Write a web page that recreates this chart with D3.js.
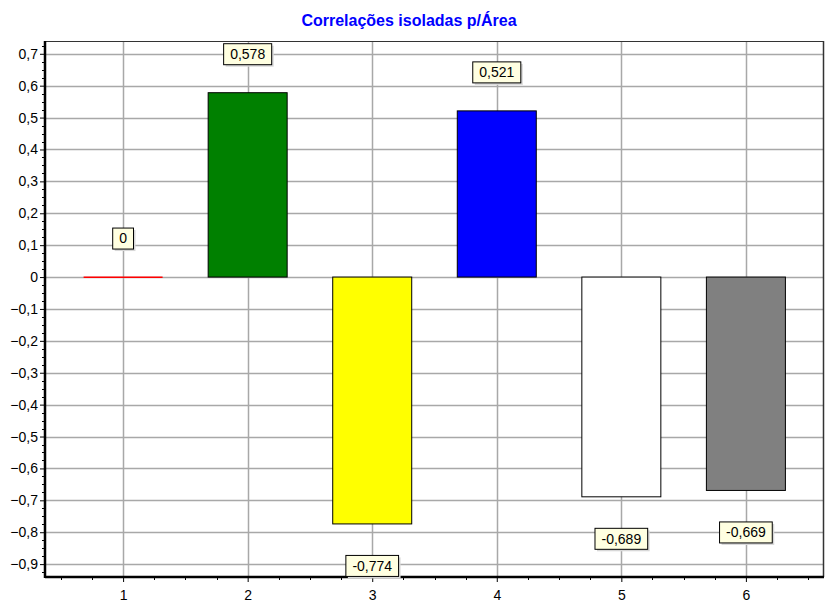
<!DOCTYPE html>
<html>
<head>
<meta charset="utf-8">
<script src="https://cdn.jsdelivr.net/npm/d3@7"></script>
<style>
  body { margin: 0; background: #fff; }
  text { font-family: "Liberation Sans", Arial, sans-serif; }
</style>
</head>
<body>
<div id="chart"></div>
<script>
// valores
var categories = [1, 2, 3, 4, 5, 6];
var values = [0, 0.578, -0.774, 0.521, -0.689, -0.669];
var barColors = ["#ff0000", "#008000", "#ffff00", "#0000ff", "#ffffff", "#808080"];
var valueLabels = ["0", "0,578", "-0,774", "0,521", "-0,689", "-0,669"];
var yTicks = [0.7, 0.6, 0.5, 0.4, 0.3, 0.2, 0.1, 0, -0.1, -0.2, -0.3, -0.4, -0.5, -0.6, -0.7, -0.8, -0.9];

var width = 827, height = 605;
var mLeft = 45, mRight = 824, mTop = 41, mBottom = 577;

var svg = d3.select('#chart').append('svg')
  .attr('width', width)
  .attr('height', height);

var x = d3.scaleLinear().domain([0.373, 6.627]).range([mLeft, mRight]);
var y = d3.scaleLinear().domain([0.7401, -0.9404]).range([mTop, mBottom]);
var fmt = function(v) { return Math.abs(v) < 1e-9 ? '0' : d3.format('.1f')(v).replace('.', ','); };

// titulo
svg.append('text')
  .attr('x', 409).attr('y', 26)
  .attr('text-anchor', 'middle')
  .style('font-size', '16px').attr('font-weight', 'bold')
  .attr('fill', '#0000ff')
  .text('Correlações isoladas p/Área');

// grade
svg.append('g').selectAll('line').data(yTicks).enter().append('line')
  .attr('x1', mLeft).attr('x2', mRight)
  .attr('y1', function(d) { return Math.round(y(d)) + 0.5; })
  .attr('y2', function(d) { return Math.round(y(d)) + 0.5; })
  .attr('stroke', '#a8a8a8').attr('stroke-width', 1.5);

svg.append('g').selectAll('line').data(categories).enter().append('line')
  .attr('y1', mTop).attr('y2', mBottom)
  .attr('x1', function(d) { return Math.round(x(d)) + 0.5; })
  .attr('x2', function(d) { return Math.round(x(d)) + 0.5; })
  .attr('stroke', '#a8a8a8').attr('stroke-width', 1.5);

// moldura
svg.append('line').attr('x1', mLeft).attr('x2', mRight).attr('y1', mTop + 0.5).attr('y2', mTop + 0.5)
  .attr('stroke', '#333').attr('stroke-width', 1);
svg.append('line').attr('x1', mRight - 0.5).attr('x2', mRight - 0.5).attr('y1', mTop).attr('y2', mBottom)
  .attr('stroke', '#333').attr('stroke-width', 1.5);

// barras (valor zero vira linha vermelha)
var bw = 79;
svg.append('g').selectAll('rect').data(values).enter().append('rect')
  .attr('x', function(d, i) { return x(categories[i]) - bw / 2; })
  .attr('y', function(d) { return d === 0 ? Math.round(y(0)) - 0.5 : y(Math.max(0, d)); })
  .attr('width', bw)
  .attr('height', function(d) { return d === 0 ? 1.5 : Math.abs(y(d) - y(0)); })
  .attr('fill', function(d, i) { return barColors[i]; })
  .attr('stroke', function(d) { return d === 0 ? 'none' : '#000'; })
  .attr('stroke-width', 1);

// eixos
var yAxis = d3.axisLeft(y).tickValues(yTicks).tickSize(5).tickFormat(fmt);
var gy = svg.append('g').attr('transform', 'translate(' + mLeft + ',0)').call(yAxis);
gy.select('.domain').remove();
gy.selectAll('text').style('font-size', '14px').attr('fill', '#000').attr('x', -7)
  .style('font-family', '"Liberation Sans", Arial, sans-serif');
gy.selectAll('.tick line').attr('stroke', '#000');

var minorY = d3.range(-0.925, 0.74, 0.025).filter(function(v) { return Math.abs(Math.round(v * 10) - v * 10) > 0.01; });
svg.append('g').selectAll('line').data(minorY).enter().append('line')
  .attr('x1', mLeft - 3).attr('x2', mLeft)
  .attr('y1', function(d) { return Math.round(y(d)) + 0.5; })
  .attr('y2', function(d) { return Math.round(y(d)) + 0.5; })
  .attr('stroke', '#000');

var xAxis = d3.axisBottom(x).tickValues(categories).tickSize(5).tickFormat(d3.format('d'));
var gx = svg.append('g').attr('transform', 'translate(0,' + mBottom + ')').call(xAxis);
gx.select('.domain').remove();
gx.selectAll('text').style('font-size', '14px').attr('fill', '#000').attr('y', 13)
  .style('font-family', '"Liberation Sans", Arial, sans-serif');
gx.selectAll('.tick line').attr('stroke', '#000');

var minorX = d3.range(0.5, 6.6, 0.25).filter(function(v) { return v % 1 !== 0; });
svg.append('g').selectAll('line').data(minorX).enter().append('line')
  .attr('y1', mBottom).attr('y2', mBottom + 3)
  .attr('x1', function(d) { return Math.round(x(d)) + 0.5; })
  .attr('x2', function(d) { return Math.round(x(d)) + 0.5; })
  .attr('stroke', '#000');

svg.append('line').attr('x1', mLeft).attr('x2', mLeft).attr('y1', mTop).attr('y2', mBottom + 1)
  .attr('stroke', '#000').attr('stroke-width', 2.5);
svg.append('line').attr('x1', mLeft).attr('x2', mRight).attr('y1', mBottom).attr('y2', mBottom)
  .attr('stroke', '#000').attr('stroke-width', 2.5);

// rotulos de valores
var lab = svg.append('g').selectAll('g').data(values).enter().append('g')
  .attr('transform', function(d, i) {
    var cy = d >= 0 ? y(d) - 38.5 : y(d) + 42;
    return 'translate(' + x(categories[i]) + ',' + cy + ')';
  });
lab.each(function(d, i) {
  var g = d3.select(this);
  var t = g.append('text').attr('text-anchor', 'middle').attr('dy', '0.35em')
    .style('font-size', '14px').attr('fill', '#000').text(valueLabels[i]);
  var w = t.node().getComputedTextLength() + 13;
  g.insert('rect', 'text').attr('x', -w / 2 + 2).attr('y', -10.5 + 2).attr('width', w).attr('height', 21)
    .attr('fill', '#d8d8d8');
  g.insert('rect', 'text').attr('x', -w / 2).attr('y', -10.5).attr('width', w).attr('height', 21)
    .attr('fill', '#ffffe1').attr('stroke', '#000').attr('stroke-width', 1);
});
</script>
</body>
</html>
